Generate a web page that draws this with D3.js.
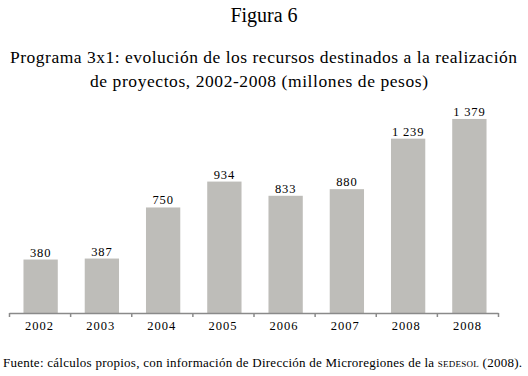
<html>
  <head>
    <meta charset="utf-8" />
    <script src="https://cdnjs.cloudflare.com/ajax/libs/d3/7.6.1/d3.min.js"></script>
    <style>
      body { margin: 0; background: #fff; }
      svg { font-family: "Liberation Serif", serif; }
    </style>
  </head>
  <body>
    <svg width="528" height="376"></svg>
  </body>
  <script>
    const years = ["2002", "2003", "2004", "2005", "2006", "2007", "2008", "2008"];
    const values = [380, 387, 750, 934, 833, 880, 1239, 1379];
    const valueLabels = ["380", "387", "750", "934", "833", "880", "1 239", "1 379"];

    const svg = d3.select("svg");
    const barColor = "#bebdb9",
      axisColor = "#8a8a8a";

    const idx = d3.range(years.length);
    const xScale = d3.scaleBand().domain(idx).range([10, 500]).paddingInner(0.44).paddingOuter(0.22);
    const yScale = d3.scaleLinear().domain([0, 1400]).range([313, 116]);

    // titles
    svg.append("text").attr("x", 264).attr("y", 22).attr("text-anchor", "middle")
      .style("font-size", "20px").text("Figura 6");
    svg.append("text").attr("x", 10).attr("y", 63)
      .attr("textLength", 507).attr("lengthAdjust", "spacing")
      .style("font-size", "17.5px")
      .text("Programa 3x1: evolución de los recursos destinados a la realización");
    svg.append("text").attr("x", 90).attr("y", 87)
      .attr("textLength", 338).attr("lengthAdjust", "spacing")
      .style("font-size", "17.5px")
      .text("de proyectos, 2002-2008 (millones de pesos)");

    // bars
    svg.selectAll("rect.bar")
      .data(idx)
      .enter()
      .append("rect")
      .attr("class", "bar")
      .attr("x", (i) => xScale(i))
      .attr("width", xScale.bandwidth())
      .attr("y", (i) => yScale(values[i]))
      .attr("height", (i) => yScale(0) - yScale(values[i]))
      .style("fill", barColor);

    svg.selectAll("text.val")
      .data(idx)
      .enter()
      .append("text")
      .attr("class", "val")
      .attr("x", (i) => xScale(i) + xScale.bandwidth() / 2)
      .attr("y", (i) => yScale(values[i]) - 3)
      .attr("text-anchor", "middle")
      .style("font-size", "12.5px")
      .style("letter-spacing", "0.8px")
      .text((i) => valueLabels[i]);

    // axis: ticks on band boundaries
    const edge = d3.scaleLinear().domain([0, years.length]).range([9, 498]);
    const xAxis = d3.axisBottom(edge).tickValues(d3.range(years.length + 1))
      .tickSize(4).tickSizeOuter(0).tickFormat("");
    const g = svg.append("g").attr("transform", "translate(0,313)").call(xAxis);
    g.select(".domain").attr("stroke", axisColor).attr("stroke-width", 1.5);
    g.selectAll(".tick line").attr("stroke", axisColor).attr("stroke-width", 1.5);

    svg.selectAll("text.year")
      .data(idx)
      .enter()
      .append("text")
      .attr("class", "year")
      .attr("x", (i) => (edge(i) + edge(i + 1)) / 2)
      .attr("y", 330)
      .attr("text-anchor", "middle")
      .style("font-size", "12.5px")
      .style("letter-spacing", "1px")
      .text((i) => years[i]);

    // source
    const src = svg.append("text").attr("x", 3).attr("y", 367)
      .attr("textLength", 519).attr("lengthAdjust", "spacing")
      .style("font-size", "13px");
    src.append("tspan").text("Fuente: cálculos propios, con información de Dirección de Microregiones de la ");
    src.append("tspan").style("font-size", "9px").text("SEDESOL");
    src.append("tspan").text(" (2008).");
  </script>
</html>
